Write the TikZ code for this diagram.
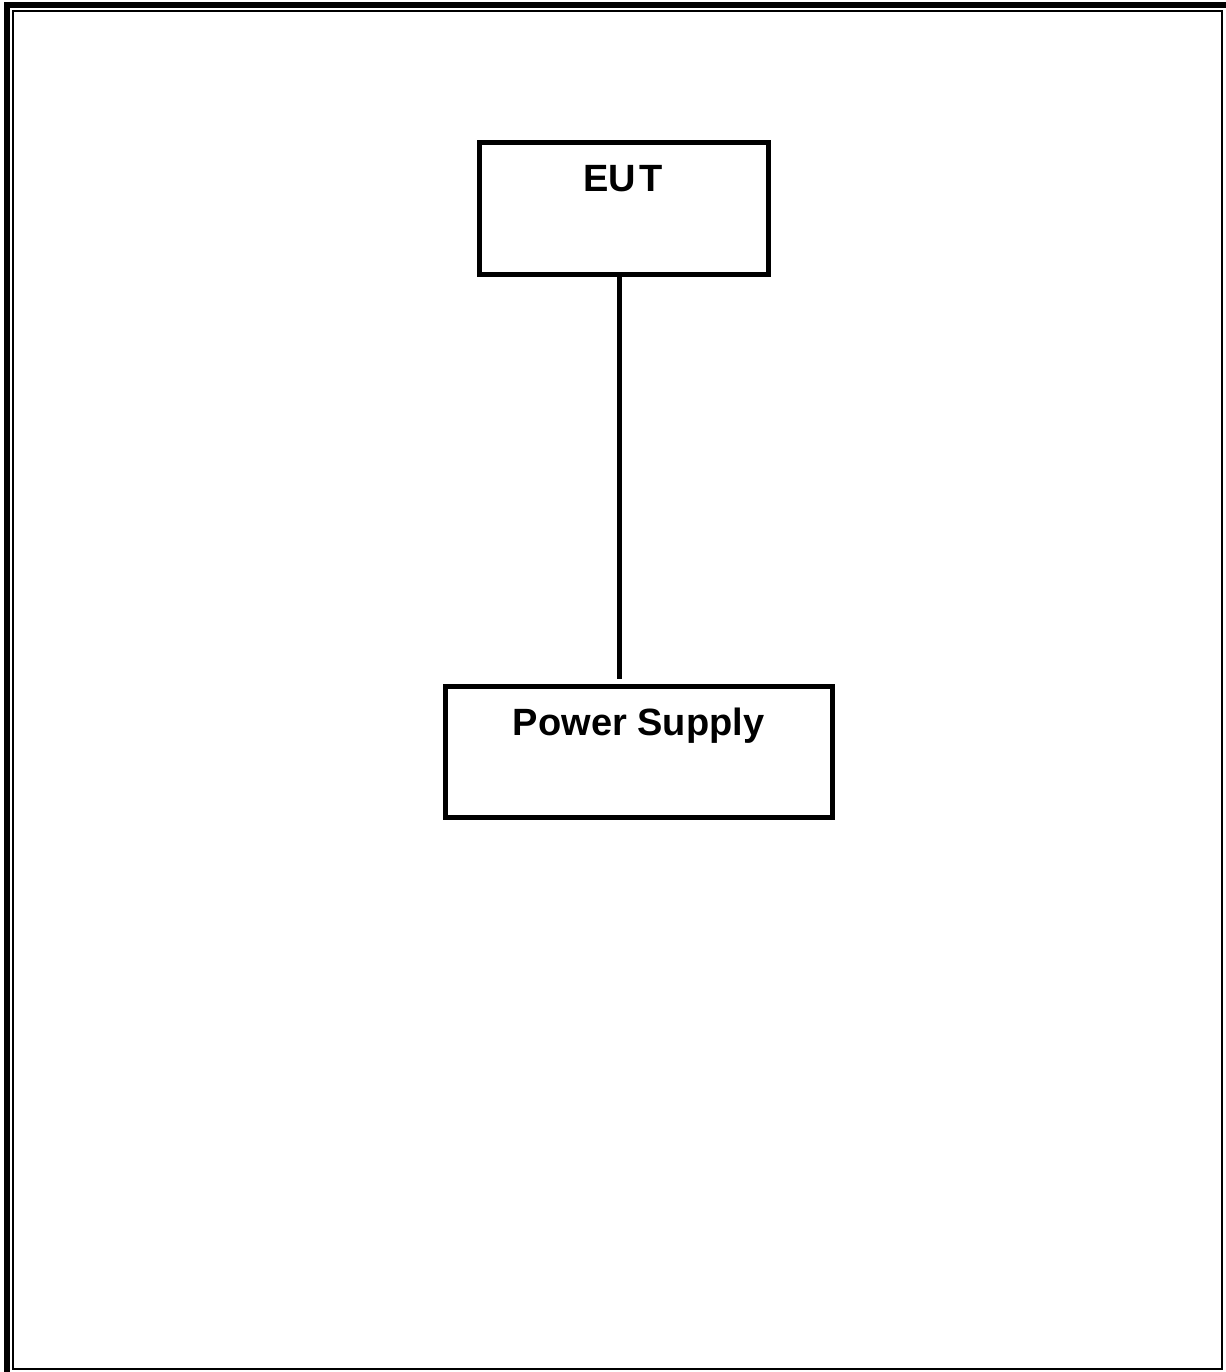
\documentclass[tikz,border=0pt]{standalone}
\usepackage{fontspec}
\setmainfont{Liberation Sans}
\begin{document}
\begin{tikzpicture}[x=1pt,y=-1pt,
  box/.style={draw=black, line width=5pt, fill=white, rectangle, inner sep=0pt},
  lbl/.style={font=\fontsize{38}{44}\selectfont\bfseries, inner sep=0pt, anchor=base},
  wire/.style={draw=black, line width=5pt}]
  \useasboundingbox (0,0) rectangle (1225,1372);
  \fill[white] (0,0) rectangle (1225,1372);

  % page frame: heavy rule on the left and top, thin inner border
  \draw[line width=6pt] (6.5,1380) -- (6.5,5.5) -- (1230,5.5);
  \draw[line width=2.2pt] (13,11) rectangle (1222,1369);

  % blocks
  \node[box, minimum width=289pt, minimum height=131pt] (eut) at (623.5,208.5) {};
  \node[lbl] (eutlabel) at (623,192) {EU\kern4pt T};

  \node[box, minimum width=387pt, minimum height=131pt] (ps) at (638.5,751.5) {};
  \node[lbl] (pslabel) at (638.5,735) {Power Supply};

  % supply cable
  \draw[wire, shorten >=5pt] ([xshift=-4.5pt]eut.south) -- ([xshift=-4.5pt]eut.south |- ps.north);
\end{tikzpicture}
\end{document}
